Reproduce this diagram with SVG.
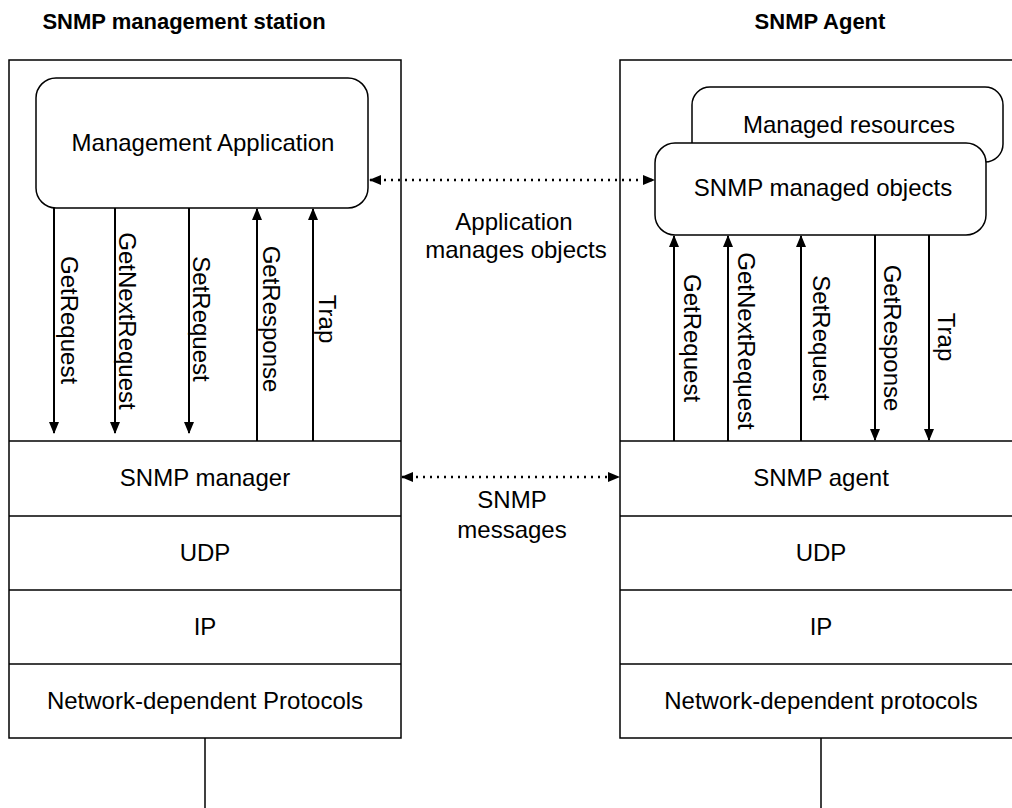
<svg xmlns="http://www.w3.org/2000/svg" width="1012" height="808" viewBox="0 0 1012 808">
<style>
text{font-family:"Liberation Sans",Arial,sans-serif;fill:#000}
.t{font-size:24px;text-anchor:middle}
.h{font-size:22px;font-weight:bold;text-anchor:middle}
.v{font-size:24px;text-anchor:middle;dominant-baseline:central}
.box{fill:none;stroke:#000;stroke-width:1.5}
.rr{fill:#fff;stroke:#000;stroke-width:1.5}
.ln{stroke:#000;stroke-width:1.5;fill:none}
.ar{stroke:#000;stroke-width:2;fill:none}
.dot{stroke:#000;stroke-width:2.5;fill:none;stroke-dasharray:2 5}
</style>
<defs>
<marker id="ah" viewBox="0 0 12 12" refX="11" refY="6" markerWidth="12" markerHeight="12" markerUnits="userSpaceOnUse" orient="auto-start-reverse">
<path d="M0,1 L12,6 L0,11 Z" fill="#000"/>
</marker>
</defs>
<text class="h" x="184" y="29">SNMP management station</text>
<text class="h" x="820" y="29">SNMP Agent</text>
<g id="station">
<rect class="box" x="9" y="60" width="392" height="678"/>
<line class="ln" x1="9" y1="441" x2="401" y2="441"/>
<line class="ln" x1="9" y1="516" x2="401" y2="516"/>
<line class="ln" x1="9" y1="590" x2="401" y2="590"/>
<line class="ln" x1="9" y1="664" x2="401" y2="664"/>
<line class="ln" x1="205" y1="738" x2="205" y2="808"/>
</g>
<g id="agent">
<rect class="box" x="620" y="60" width="404" height="678"/>
<line class="ln" x1="620" y1="441" x2="1024" y2="441"/>
<line class="ln" x1="620" y1="516" x2="1024" y2="516"/>
<line class="ln" x1="620" y1="590" x2="1024" y2="590"/>
<line class="ln" x1="620" y1="664" x2="1024" y2="664"/>
<line class="ln" x1="821" y1="738" x2="821" y2="808"/>
</g>
<g id="mgmt-app">
<rect class="rr" x="36" y="78" width="332" height="130" rx="20"/>
<text class="t" x="203" y="151">Management Application</text>
</g>
<g id="managed-resources">
<rect class="rr" x="692" y="87" width="311" height="75" rx="18"/>
<text class="t" x="849" y="133">Managed resources</text>
</g>
<g id="managed-objects">
<rect class="rr" x="655" y="143" width="331" height="92" rx="20"/>
<text class="t" x="823" y="196">SNMP managed objects</text>
</g>
<g id="snmp-manager"><text class="t" x="205" y="486">SNMP manager</text></g>
<g id="udp-l"><text class="t" x="205" y="561">UDP</text></g>
<g id="ip-l"><text class="t" x="205" y="635">IP</text></g>
<g id="ndp-l"><text class="t" x="205" y="709">Network-dependent Protocols</text></g>
<g id="snmp-agent"><text class="t" x="821" y="486">SNMP agent</text></g>
<g id="udp-r"><text class="t" x="821" y="561">UDP</text></g>
<g id="ip-r"><text class="t" x="821" y="635">IP</text></g>
<g id="ndp-r"><text class="t" x="821" y="709">Network-dependent protocols</text></g>
<g id="connectors">
<line class="ar" x1="54" y1="208" x2="54" y2="433" marker-end="url(#ah)"/>
<line class="ar" x1="115" y1="208" x2="115" y2="433" marker-end="url(#ah)"/>
<line class="ar" x1="189" y1="208" x2="189" y2="433" marker-end="url(#ah)"/>
<line class="ar" x1="257" y1="441" x2="257" y2="209" marker-end="url(#ah)"/>
<line class="ar" x1="313" y1="441" x2="313" y2="209" marker-end="url(#ah)"/>
<line class="ar" x1="674" y1="441" x2="674" y2="236" marker-end="url(#ah)"/>
<line class="ar" x1="728" y1="441" x2="728" y2="236" marker-end="url(#ah)"/>
<line class="ar" x1="801" y1="441" x2="801" y2="236" marker-end="url(#ah)"/>
<line class="ar" x1="875" y1="235" x2="875" y2="440" marker-end="url(#ah)"/>
<line class="ar" x1="929" y1="235" x2="929" y2="440" marker-end="url(#ah)"/>
<line class="dot" x1="370" y1="180" x2="654" y2="180" marker-start="url(#ah)" marker-end="url(#ah)"/>
<line class="dot" x1="402" y1="477" x2="619" y2="477" marker-start="url(#ah)" marker-end="url(#ah)"/>
<text class="v" transform="translate(69,320) rotate(90)">GetRequest</text>
<text class="v" transform="translate(127,321) rotate(90)">GetNextRequest</text>
<text class="v" transform="translate(201,319) rotate(90)">SetRequest</text>
<text class="v" transform="translate(271,319) rotate(90)">GetResponse</text>
<text class="v" transform="translate(327,319) rotate(90)">Trap</text>
<text class="v" transform="translate(692,338) rotate(90)">GetRequest</text>
<text class="v" transform="translate(746,341) rotate(90)">GetNextRequest</text>
<text class="v" transform="translate(821,338) rotate(90)">SetRequest</text>
<text class="v" transform="translate(892,338) rotate(90)">GetResponse</text>
<text class="v" transform="translate(946,337) rotate(90)">Trap</text>
<text class="t" x="514" y="230">Application</text>
<text class="t" x="516" y="258">manages objects</text>
<text class="t" x="512" y="508">SNMP</text>
<text class="t" x="512" y="538">messages</text>
</g>
</svg>
